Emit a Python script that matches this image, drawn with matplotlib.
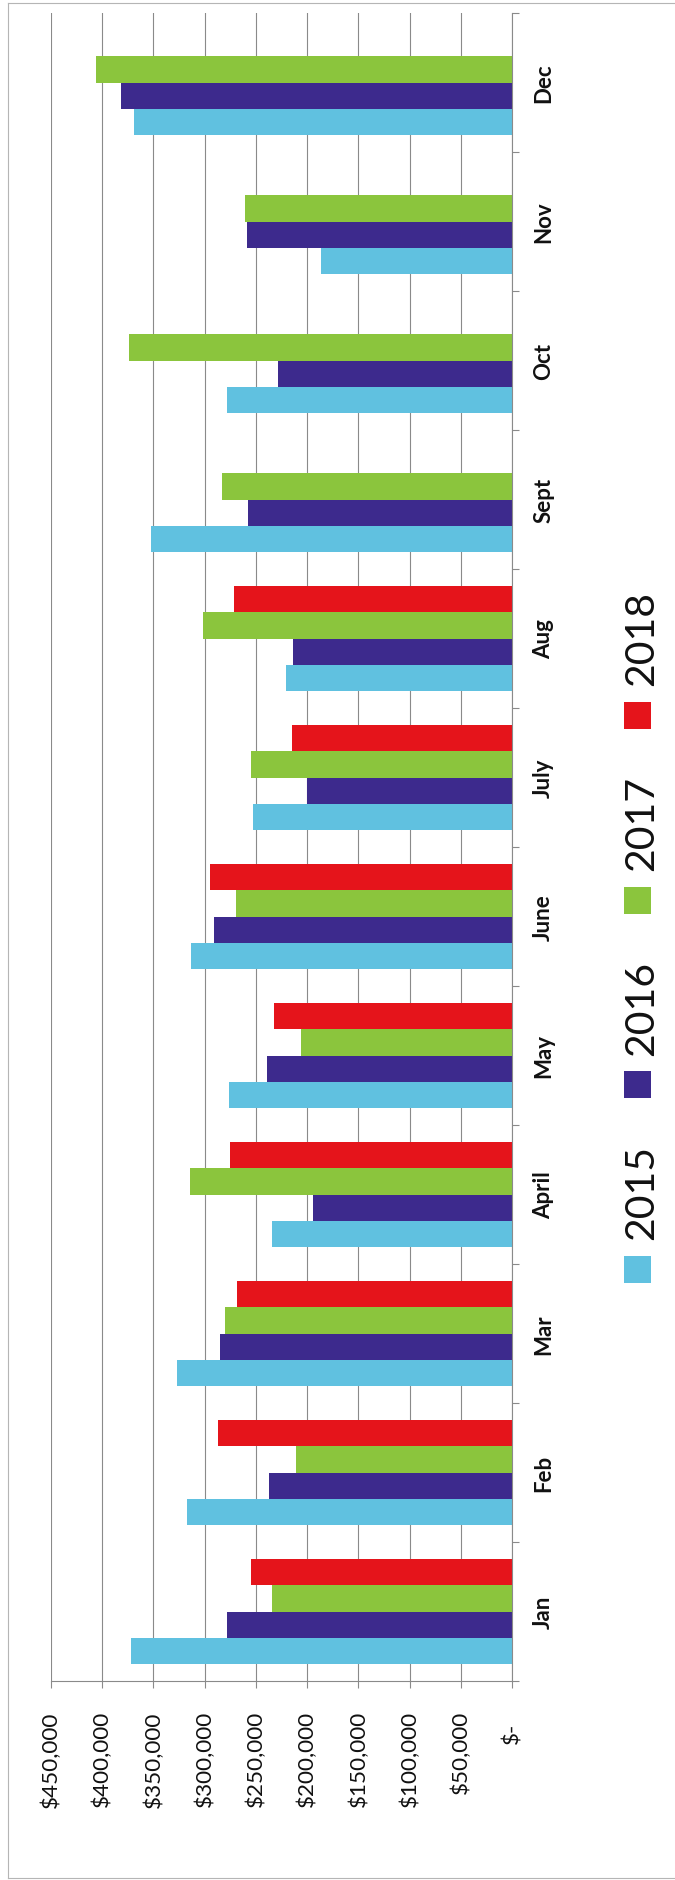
import numpy as np
import matplotlib
matplotlib.use("Agg")
import matplotlib.pyplot as plt
from matplotlib import font_manager as fm
from matplotlib.patches import Rectangle
from matplotlib.lines import Line2D
from matplotlib.transforms import ScaledTranslation

# ---------------- data ----------------
months = ["Jan", "Feb", "Mar", "April", "May", "June", "July", "Aug", "Sept", "Oct", "Nov", "Dec"]
series_names = ["2015", "2016", "2017", "2018"]
sales_2015 = [371500, 316900, 327000, 234300, 275800, 313600, 253100, 220400, 352600, 278300, 186400, 369000]
sales_2016 = [278300, 236800, 285000, 194000, 239300, 291300, 199800, 214100, 258200, 228800, 259000, 382000]
sales_2017 = [234700, 211200, 280000, 314000, 205700, 269100, 254800, 301800, 283400, 374000, 260300, 406400]
sales_2018 = [254800, 287100, 268300, 275400, 232100, 295100, 214900, 271200, np.nan, np.nan, np.nan, np.nan]
value_ticks = [0, 50000, 100000, 150000, 200000, 250000, 300000, 350000, 400000, 450000]
value_tick_labels = ["$-", "$50,000", "$100,000", "$150,000", "$200,000", "$250,000",
                     "$300,000", "$350,000", "$400,000", "$450,000"]
colors = ["#60C1E0", "#3D2A8D", "#8BC53D", "#E5141B"]


def has_font(name):
    try:
        fm.findfont(fm.FontProperties(family=name), fallback_to_default=False)
        return True
    except Exception:
        return False


main_font = "Lato" if has_font("Lato") else "Liberation Sans"
fam = [main_font, "DejaVu Sans"]

W, H = 675, 1881
fig = plt.figure(figsize=(W / 100, H / 100), dpi=100)
fig.patch.set_facecolor("white")

# plot area in pixels: x 50.8..512.3, y 14..1682
x0, x1, ytop, ybot = 50.8, 512.3, 14, 1682
ax = fig.add_axes([x0 / W, (H - ybot) / H, (x1 - x0) / W, (ybot - ytop) / H])

ypos = np.arange(len(months))
h = 0.189
all_series = [sales_2015, sales_2016, sales_2017, sales_2018]
for k, (vals, c) in enumerate(zip(all_series, colors)):
    ax.barh(ypos + (k - 1.5) * h, vals, height=h, color=c, linewidth=0, zorder=2)

ax.set_xlim(450000, 0)
ax.set_ylim(-0.5, len(months) - 0.5)

gray = "#8a8a8a"
ax.set_axisbelow(True)
ax.xaxis.grid(True, color=gray, linewidth=0.8)
ax.yaxis.grid(False)
for s in ["left", "top"]:
    ax.spines[s].set_visible(False)
for s in ["right", "bottom"]:
    ax.spines[s].set_color(gray)
    ax.spines[s].set_linewidth(0.8)

# value axis (bottom)
ax.tick_params(axis="x", direction="out", length=5, width=0.8, color=gray, pad=16)
ax.set_xticks(value_ticks, value_tick_labels, rotation=90, rotation_mode="anchor",
              ha="right", va="center", fontsize=16.2, family=fam, color="#111111")

# category axis (right)
ax.yaxis.tick_right()
ax.tick_params(axis="y", which="major", length=0, pad=15)
ax.set_yticks(ypos, months, rotation=90, rotation_mode="anchor", ha="center", va="top",
              fontsize=16, fontweight="bold", family=fam, color="#111111")
ax.set_yticks(np.arange(-0.5, len(months), 1), minor=True)
ax.tick_params(axis="y", which="minor", direction="out", length=5, width=0.8, color=gray)

# the "$-" label is padded (accounting format), so it sits lower
zero_lab = ax.get_xticklabels()[0]
zero_lab.set_transform(zero_lab.get_transform() + ScaledTranslation(0, -0.12, fig.dpi_scale_trans))

# legend drawn manually (rotated)
marker_centers = [1270, 1085.5, 901, 716.5]
for name, c, mc in zip(series_names, colors, marker_centers):
    fig.add_artist(Rectangle((624 / W, 1 - (mc + 13.5) / H), 27 / W, 27 / H,
                             transform=fig.transFigure, facecolor=c, edgecolor="none"))
    fig.text(653 / W, 1 - (mc - 77.5) / H, name, rotation=90, rotation_mode="anchor",
             ha="center", va="baseline", fontsize=29.5, family=fam, color="#111111")

# outer frame (scan border)
bc = "#b5b5b5"
fig.add_artist(Line2D([7.7 / W, 7.7 / W], [1 - 4 / H, 1 - 1879 / H], transform=fig.transFigure, color=bc, lw=0.8))
fig.add_artist(Line2D([7.7 / W, 1.0], [1 - 4 / H, 1 - 4 / H], transform=fig.transFigure, color=bc, lw=0.8))
fig.add_artist(Line2D([7.7 / W, 1.0], [1 - 1879 / H, 1 - 1879 / H], transform=fig.transFigure, color=bc, lw=0.8))

fig.savefig("out.png", dpi=100, facecolor="white")
